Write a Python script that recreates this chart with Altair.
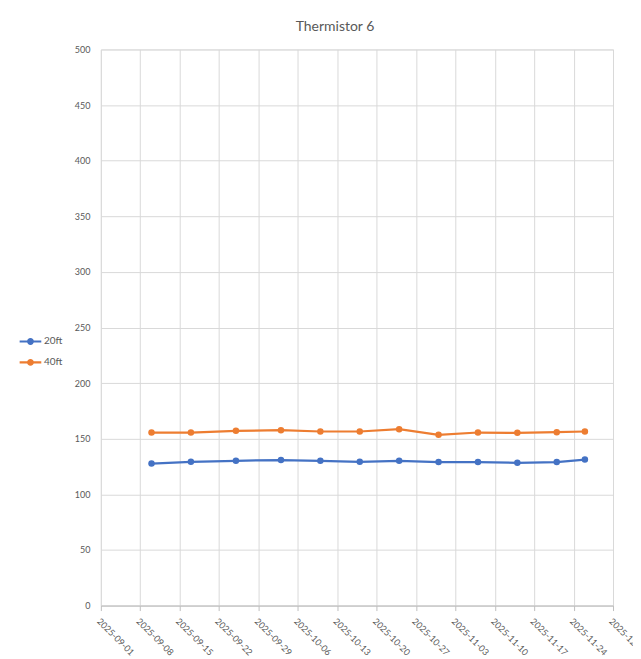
import altair as alt
import pandas as pd

dates = ["2025-09-10", "2025-09-17", "2025-09-25", "2025-10-03", "2025-10-10", "2025-10-17",
         "2025-10-24", "2025-10-31", "2025-11-07", "2025-11-14", "2025-11-21", "2025-11-26"]
s20 = [127.7, 129.3, 130.2, 130.8, 130.2, 129.3, 130.2, 129.0, 129.0, 128.4, 129.0, 131.3]
s40 = [155.6, 155.6, 157.1, 157.7, 156.5, 156.5, 158.6, 153.5, 155.6, 155.3, 155.9, 156.5]
series = ["20ft", "40ft"]
colors = ["#4472C4", "#ED7D31"]
tick_dates = ["2025-09-01", "2025-09-08", "2025-09-15", "2025-09-22", "2025-09-29", "2025-10-06",
              "2025-10-13", "2025-10-20", "2025-10-27", "2025-11-03", "2025-11-10", "2025-11-17",
              "2025-11-24", "2025-12-01"]

rows = []
for name, vals in zip(series, [s20, s40]):
    for d, v in zip(dates, vals):
        rows.append({"date": d, "value": v, "series": name})
df = pd.DataFrame(rows)

def dt(s):
    y, m, d = map(int, s.split("-"))
    return alt.DateTime(year=y, month=m, date=d, utc=True)

FONT = "Lato"
GRAY = "#595959"

x = alt.X("date:T", title=None,
          scale=alt.Scale(type="utc", domain=[dt(tick_dates[0]), dt(tick_dates[-1])]),
          axis=alt.Axis(values=[dt(t) for t in tick_dates], format="%Y-%m-%d", labelAngle=45,
                        labelAlign="left", labelBaseline="top", labelPadding=6,
                        labelColor=GRAY, labelFontSize=9, labelFont=FONT,
                        gridColor="#d9d9d9", domainColor="#bfbfbf", tickColor="#bfbfbf",
                        tickSize=5, labelOverlap=False, labelBound=False, labelFlush=False))
y = alt.Y("value:Q", title=None,
          scale=alt.Scale(domain=[0, 500], nice=False),
          axis=alt.Axis(values=list(range(0, 501, 50)), domain=False, ticks=False,
                        labelColor=GRAY, labelFontSize=9, labelFont=FONT, labelPadding=11,
                        gridColor="#d9d9d9"))
color = alt.Color("series:N", title=None,
                  scale=alt.Scale(domain=series, range=colors),
                  legend=alt.Legend(orient="none", legendX=-79, legendY=284,
                                    symbolType="M-1.55,0H1.55M-0.33,0a0.33,0.33 0 1,0 0.66,0a0.33,0.33 0 1,0 -0.66,0",
                                    symbolSize=196, symbolStrokeWidth=2.2,
                                    labelFont=FONT, labelFontSize=10, labelColor=GRAY,
                                    rowPadding=5, labelOffset=5))

base = alt.Chart(df).encode(x=x, y=y, color=color)
line = base.mark_line(strokeWidth=2.25)
pts = base.mark_circle(size=42, opacity=1)

chart = alt.layer(line, pts).properties(
    width=513, height=557,
    title=alt.TitleParams("Thermistor 6", font=FONT, fontSize=14, fontWeight="normal",
                          color=GRAY, offset=11, dx=-22),
    autosize=alt.AutoSizeParams(type="none"),
    padding={"left": 93, "top": 41, "right": 20, "bottom": 52},
).configure_view(stroke=None).configure(background="white")

chart.save("out.html", embed_options={"renderer": "svg", "actions": False})
